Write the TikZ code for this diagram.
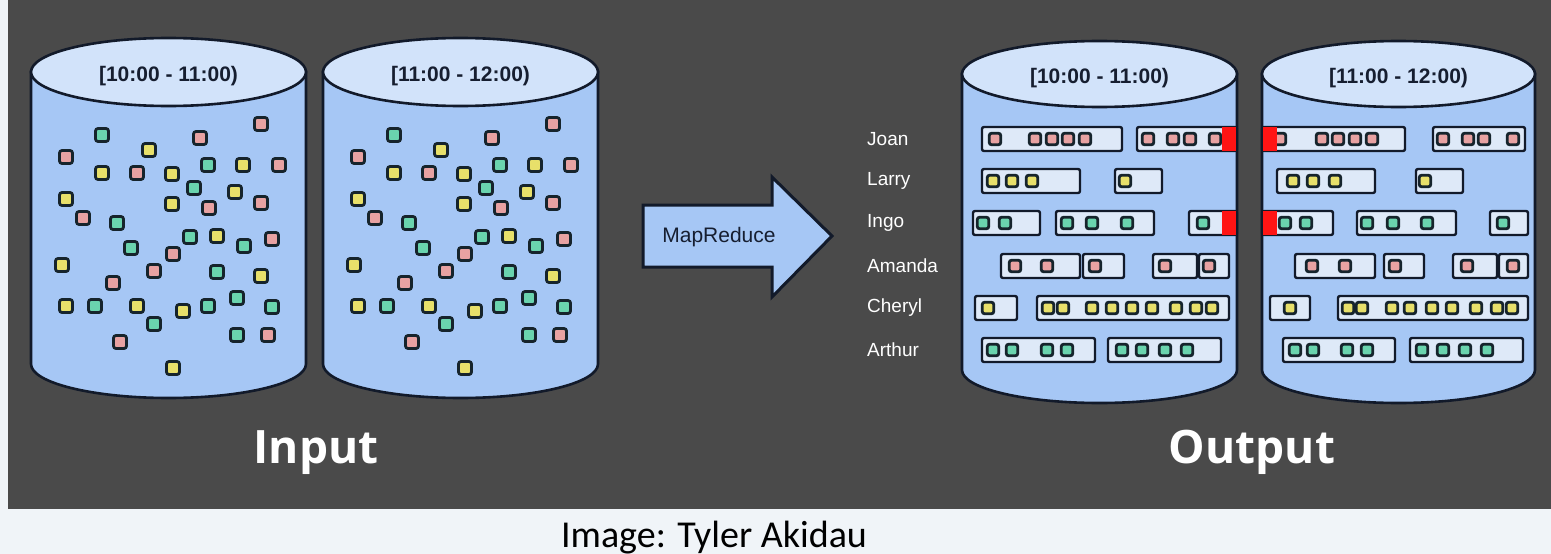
\documentclass[tikz,border=0pt]{standalone}
\usepackage{fontspec}
\setmainfont{Liberation Sans}
\newfontfamily\titlefont{Open Sans}
\newfontfamily\capfont{Carlito}
\definecolor{capbg}{HTML}{F0F4F8}
\definecolor{panel}{HTML}{4A4A4A}
\definecolor{cylfill}{HTML}{A6C7F5}
\definecolor{topfill}{HTML}{D2E3FA}
\definecolor{cylline}{HTML}{121A2A}
\definecolor{boxfill}{HTML}{DEE9F8}
\definecolor{dotline}{HTML}{16242C}
\definecolor{dpink}{HTML}{E8A2A2}
\definecolor{dyellow}{HTML}{E8E06A}
\definecolor{dgreen}{HTML}{6AD4AE}
\definecolor{mark}{HTML}{FF1414}
\definecolor{txtdark}{HTML}{161E30}
\tikzset{
  cylbody/.style={fill=cylfill,draw=cylline,line width=2.6pt},
  cyltop/.style={fill=topfill,draw=cylline,line width=2.6pt},
  dotst/.style={draw=dotline,line width=2.8pt,rounded corners=2.5pt},
  obox/.style={fill=boxfill,draw=cylline,line width=2.4pt,rounded corners=2pt},
  cyltitle/.style={font=\bfseries\fontsize{21}{24}\selectfont,text=txtdark,inner sep=0pt},
  person/.style={font=\fontsize{19}{22}\selectfont,text=white,anchor=west,inner sep=0pt},
  bigtitle/.style={font=\titlefont\bfseries\fontsize{46}{50}\selectfont,text=white,anchor=base,inner sep=0pt},
  redmark/.style={fill=mark}
}
\newcommand\mycyl[6]{% name, cx, rx, topy, boty, ry
  \path[cylbody] (#2-#3,#4) -- (#2-#3,#5) arc[start angle=180,end angle=0,x radius=#3,y radius=#6] -- (#2+#3,#4) -- cycle;
  \path[cyltop] (#2,#4) ellipse [x radius=#3, y radius=#6];
  \coordinate (#1) at (#2,#4);
}
\newcommand\mydot[4]{\path[dotst,fill=#4] (#1-#3,#2-#3) rectangle (#1+#3,#2+#3);}
\newcommand\mybox[3]{\path[obox] (#1,#3-12) rectangle (#2,#3+12);}
\begin{document}
\begin{tikzpicture}[x=1pt,y=-1pt]
\useasboundingbox (0,0) rectangle (1551,554);
\fill[capbg] (0,0) rectangle (1551,554);
\fill[panel] (8,0) rectangle (1551,509);

% input cylinders
\mycyl{c1}{168.5}{137.5}{72}{364}{34}
\mycyl{c2}{460.5}{137.5}{72}{364}{34}
\node[cyltitle] (t1) at (168.5,76) {[10:00 - 11:00)};
\node[cyltitle] (t2) at (460.5,76) {[11:00 - 12:00)};
\foreach \px/\py/\pc in {261/124/dpink,102/135/dgreen,200/138/dpink,149/150/dyellow,66/157/dpink,
 208/165/dgreen,243/165/dyellow,279/165/dpink,102/173/dyellow,137/173/dpink,172/174/dyellow,
 194/188/dgreen,235/192/dyellow,66/199/dyellow,172/204/dyellow,209/208/dpink,261/203/dpink,
 83/218/dpink,117/223/dgreen,190/237/dgreen,217/236/dyellow,272/239/dpink,131/248/dgreen,
 244/246/dgreen,173/254/dpink,62/265/dyellow,154/271/dpink,217/272/dgreen,261/276/dyellow,
 113/283/dpink,237/298/dgreen,66/306/dyellow,95/306/dgreen,137/306/dyellow,208/306/dgreen,
 272/307/dgreen,183/311/dyellow,154/324/dgreen,237/335/dgreen,268/335/dpink,120/342/dpink,
 173/368/dyellow}{
  \mydot{\px}{\py}{6.5}{\pc}
  \mydot{\px+292}{\py}{6.5}{\pc}
}

% arrow
\path[fill=cylfill,draw=cylline,line width=3pt,line join=miter]
  (643,205) -- (772,205) -- (772,177) -- (832,236) -- (772,297) -- (772,267) -- (643,267) -- cycle;
\node[font=\fontsize{21}{24}\selectfont,text=txtdark,inner sep=0pt] (mr) at (719,237) {MapReduce};

% names
\node[person] (joan) at (867,139) {Joan};
\node[person] (larry) at (867,181) {Larry};
\node[person] (ingo) at (867,223) {Ingo};
\node[person] (amanda) at (867,266) {Amanda};
\node[person] (cheryl) at (867,308) {Cheryl};
\node[person] (arthur) at (867,350) {Arthur};

% output cylinders
\mycyl{c3}{1099.5}{137.5}{74}{370}{33}
\mycyl{c4}{1398.5}{136.5}{74}{370}{33}
\node[cyltitle] (t3) at (1099.5,78) {[10:00 - 11:00)};
\node[cyltitle] (t4) at (1398.5,78) {[11:00 - 12:00)};

% cylinder 3 rows
\mybox{982}{1122}{139}\mybox{1137}{1237}{139}
\foreach \x in {995,1035,1052,1068,1085,1148,1173,1190,1215}{\mydot{\x}{139}{5.8}{dpink}}
\mybox{982}{1080}{181}\mybox{1115}{1162}{181}
\foreach \x in {993,1012,1032,1125}{\mydot{\x}{181}{5.8}{dyellow}}
\mybox{973}{1040}{223}\mybox{1056}{1154}{223}\mybox{1189}{1237}{223}
\foreach \x in {983,1005,1067,1092,1127,1203}{\mydot{\x}{223}{5.8}{dgreen}}
\mybox{1001}{1080}{266}\mybox{1083}{1124}{266}\mybox{1153}{1197}{266}\mybox{1199}{1229}{266}
\foreach \x in {1015,1047,1095,1165,1209}{\mydot{\x}{266}{5.8}{dpink}}
\mybox{975}{1017}{308}\mybox{1037}{1229}{308}
\foreach \x in {988,1048,1063,1092,1112,1132,1152,1176,1196,1212}{\mydot{\x}{308}{5.8}{dyellow}}
\mybox{982}{1095}{350}\mybox{1108}{1221}{350}
\foreach \x in {993,1012,1047,1067,1122,1142,1165,1187}{\mydot{\x}{350}{5.8}{dgreen}}

% cylinder 4 rows
\mybox{1262}{1405}{139}\mybox{1433}{1525}{139}
\foreach \x in {1280,1322,1338,1355,1372,1443,1468,1484,1513}{\mydot{\x}{139}{5.8}{dpink}}
\mybox{1277}{1375}{181}\mybox{1416}{1463}{181}
\foreach \x in {1293,1313,1335,1425}{\mydot{\x}{181}{5.8}{dyellow}}
\mybox{1262}{1333}{223}\mybox{1357}{1456}{223}\mybox{1490}{1528}{223}
\foreach \x in {1285,1306,1367,1393,1427,1503}{\mydot{\x}{223}{5.8}{dgreen}}
\mybox{1295}{1375}{266}\mybox{1384}{1424}{266}\mybox{1453}{1497}{266}\mybox{1499}{1528}{266}
\foreach \x in {1312,1345,1395,1467,1513}{\mydot{\x}{266}{5.8}{dpink}}
\mybox{1270}{1310}{308}\mybox{1338}{1528}{308}
\foreach \x in {1290,1348,1362,1392,1410,1432,1452,1476,1497,1512}{\mydot{\x}{308}{5.8}{dyellow}}
\mybox{1283}{1395}{350}\mybox{1410}{1523}{350}
\foreach \x in {1295,1313,1347,1367,1422,1443,1465,1487}{\mydot{\x}{350}{5.8}{dgreen}}

% red marks
\fill[redmark] (1222,127) rectangle (1237,151);
\fill[redmark] (1222,211) rectangle (1237,235);
\fill[redmark] (1262,127) rectangle (1277,151);
\fill[redmark] (1262,211) rectangle (1277,235);
\draw[cylline,line width=2.6pt] (1237,74) -- (1237,370);
\draw[cylline,line width=2.6pt] (1262,74) -- (1262,370);

% titles
\node[bigtitle] (input) at (316,463) {Input};
\node[bigtitle] (output) at (1252,463) {Output};
\node[font=\capfont\fontsize{38}{42}\selectfont,text=black,anchor=base,inner sep=0pt] (credit) at (714,547) {Image: Tyler Akidau};
\end{tikzpicture}
\end{document}
